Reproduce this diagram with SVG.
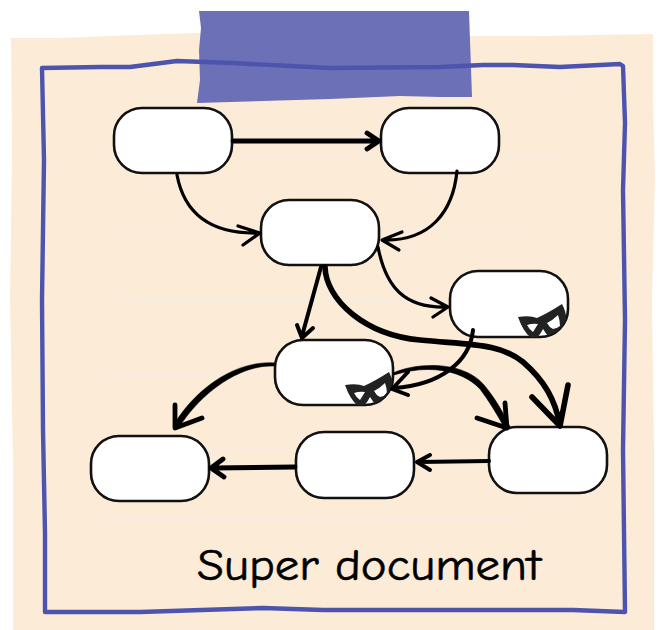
<svg xmlns="http://www.w3.org/2000/svg" width="659" height="630" viewBox="0 0 659 630">
<style>
.n{fill:#fff;stroke:#111;stroke-width:2.6}
.c{fill:none;stroke:#000;stroke-linecap:round;stroke-linejoin:round}
.t2{stroke-width:3.2}.t3{stroke-width:4}.t4{stroke-width:4.8}.t5{stroke-width:5.6}
.f{fill:#000;stroke:#000;stroke-width:.6;stroke-linejoin:round}
.g{fill:none;stroke:#f6ede3;stroke-width:1.6}
.l{font-family:"Comic Sans MS","Comic Neue","DejaVu Sans",sans-serif;font-size:44px;fill:#000;stroke:#000;stroke-width:.6}
</style>
<defs>
<g id="mask-glyph"><path fill="#222" fill-rule="evenodd" d="M518 317 Q530 315 537 318 Q548 313 562 304 Q568 315 566 327 Q561 336 552 338 Q546 335 543 329 Q538 339 533 339 Q524 334 518 317 Z M527 325 Q533 323 538 324 L533 332 Q529 329 527 325 Z M547 323 Q553 320 558 315 Q560 320 560 326 Q556 329 553 329 Q549 327 547 323 Z"/></g>
<clipPath id="clip-4"><rect x="450" y="271" width="118" height="66" rx="28"/></clipPath>
<clipPath id="clip-5"><rect x="275" y="340" width="118" height="65" rx="28"/></clipPath>
</defs>
<rect width="659" height="630" fill="#fff"/>
<path id="paper" d="M11 38 L60 38 L110 36 L197 33 L330 36 L468 36 L540 36 L653 34 L653 100 L655 177 L652 300 L654 450 L654 630 L13 630 L13 463 L10 300 L12 150 Z" fill="#fcebd7"/>
<path class="g" d="M100 156 L558 156 M125 228 L520 228 M125 300 L440 301 M100 375 L566 375 M205 448 L300 448 M100 520 L520 520"/>
<path id="tape" d="M199 11 L469 11 L470 40 L472 97 L440 97 L400 96 L330 99 L197 103 L200 80 L199 50 L201 28 Z" fill="#6c70b7"/>
<path id="frame" d="M42 68 L100 67 L130 67 L177 61 L233 63 L290 66 L330 68 L440 67 L483 65 L513 65 L560 67 L620 64 L623 66 L625 123 L623 190 L625 320 L623 450 L625 612 L573 610 L450 610 L323 610 L263 608 L140 612 L45 612 L45 533 L43 430 L42 300 L44 160 Z" fill="none" stroke="#4c54ae" stroke-width="4.4" stroke-linejoin="round"/>
<g id="node-1"><rect class="n" x="114" y="108" width="118" height="65" rx="28"/></g>
<g id="node-2"><rect class="n" x="381" y="108" width="118" height="65" rx="28"/></g>
<g id="node-3"><rect class="n" x="261" y="200" width="118" height="65" rx="28"/></g>
<g id="node-4"><rect class="n" x="450" y="271" width="118" height="66" rx="28"/><g clip-path="url(#clip-4)"><use href="#mask-glyph"/></g></g>
<g id="node-5"><rect class="n" x="275" y="340" width="118" height="65" rx="28"/><g clip-path="url(#clip-5)"><use href="#mask-glyph" transform="translate(-173 68)"/></g></g>
<g id="node-6"><rect class="n" x="91" y="436" width="118" height="65" rx="28"/></g>
<g id="node-7"><rect class="n" x="296" y="432" width="118" height="66" rx="28"/></g>
<g id="node-8"><rect class="n" x="489" y="427" width="118" height="66" rx="28"/></g>
<g id="connectors">
<path class="c t4" d="M233 141 L377 141 M367 133 L379 141 L367 149"/>
<path class="c t2" d="M177 175 C184 212 208 234 258 233 M238 226 L260 233 L243 245"/>
<path class="c t2" d="M457 171 C453 212 430 241 384 240 M402 232 L382 240 L399 250"/>
<path class="c t2" d="M378 247 C386 288 405 308 446 307 M431 298 L448 307 L433 317"/>
<path class="c t3" d="M321 267 L302 336 M297 325 L302 338 L313 328"/>
<path class="c t5" d="M325 267 C326 300 365 335 420 340 C470 345 500 343 523 362 C545 381 555 400 560 425 M532 397 L560 426 L568 385"/>
<path class="c t3" d="M473 330 C470 362 440 385 394 388 M408 372 L392 389 L408 395"/>
<path class="f" d="M393 373 C420 361 465 362 484 385 C495 398 503 412 510 427 L505 429 C497 414 489 401 480 389 C460 368 425 365 394 375 Z"/>
<path class="c t4" d="M477 418 L507 428 L505 403"/>
<path class="f" d="M275 363 C240 360 198 384 173 426 L178 429 C200 393 240 364 275 366 Z"/>
<path class="c t4" d="M175 405 L175 428 L202 418"/>
<path class="c t4" d="M295 467 L213 468 M223 459 L211 468 L224 477"/>
<path class="c t3" d="M489 461 L419 462 M430 455 L417 462 L430 470"/>
</g>
<text class="l" x="197" y="580" textLength="344" lengthAdjust="spacingAndGlyphs">Super document</text>
</svg>
